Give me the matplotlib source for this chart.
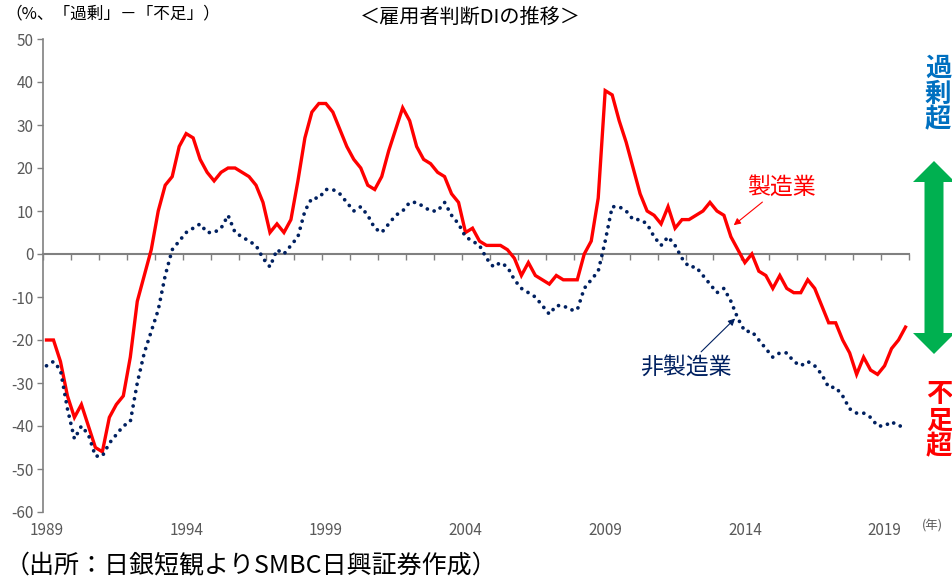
import matplotlib
matplotlib.use("Agg")
import matplotlib.pyplot as plt
from matplotlib.patches import Polygon
import numpy as np

plt.rcParams['font.family'] = ['Noto Sans CJK JP', 'DejaVu Sans']
plt.rcParams['axes.unicode_minus'] = False

# 四半期データ 1989Q1 - 2019Q4 (日銀短観 雇用人員判断DI)
manufacturing = [
    -20, -20, -25, -33,  -38, -35, -40, -45,  -46, -38, -35, -33,
    -24, -11, -5, 1,     10, 16, 18, 25,      28, 27, 22, 19,
    17, 19, 20, 20,      19, 18, 16, 12,      5, 7, 5, 8,
    17, 27, 33, 35,      35, 33, 29, 25,      22, 20, 16, 15,
    18, 24, 29, 34,      31, 25, 22, 21,      19, 18, 14, 12,
    5, 6, 3, 2,          2, 2, 1, -1,         -5, -2, -5, -6,
    -7, -5, -6, -6,      -6, 0, 3, 13,        38, 37, 31, 26,
    20, 14, 10, 9,       7, 11, 6, 8,         8, 9, 10, 12,
    10, 9, 4, 1,         -2, 0, -4, -5,       -8, -5, -8, -9,
    -9, -6, -8, -12,     -16, -16, -20, -23,  -28, -24, -27, -28,
    -26, -22, -20, -17,
]
non_manufacturing = [
    -26, -25, -27, -36,  -43, -40, -42, -47,  -47, -44, -42, -40,
    -39, -30, -23, -18,  -13, -5, 1, 3,       5, 6, 7, 5,
    5, 6, 9, 5,          4, 3, 2, -1,         -3, 1, 0, 2,
    4, 10, 13, 13,       15, 15, 14, 12,      10, 11, 9, 6,
    5, 7, 9, 10,         12, 12, 11, 10,      10, 12, 9, 7,
    4, 3, 2, -1,         -3, -2, -3, -6,      -8, -9, -10, -12,
    -14, -12, -12, -13,  -13, -8, -6, -4,     3, 11, 11, 10,
    8, 8, 7, 4,          2, 4, 2, -1,         -3, -3, -5, -7,
    -9, -8, -11, -15,    -18, -18, -20, -22,  -24, -23, -23, -25,
    -26, -25, -26, -28,  -31, -31, -33, -36,  -37, -37, -38, -40,
    -40, -39, -40, -40,
]
year_labels = ['1989', '1994', '1999', '2004', '2009', '2014', '2019']
y_ticks = list(range(-60, 51, 10))

red = '#FF0000'
navy = '#002060'
gray = '#595959'

W, H = 952, 583
fig = plt.figure(figsize=(W / 100, H / 100), dpi=100)
ax = fig.add_axes([43 / W, 1 - 512 / H, (909 - 43) / W, (512 - 39) / H])

q = np.arange(len(manufacturing))
ax.plot(q, manufacturing, color=red, lw=2.4, solid_joinstyle='miter', zorder=3)
ax.plot(q, non_manufacturing, color=navy, lw=2.7, dash_capstyle='round',
        linestyle=(0, (0.01, 1.95)), zorder=3)

ax.set_xlim(-0.5, len(q) - 0.5)
ax.set_ylim(-60, 50)

# 軸
for s in ['top', 'right']:
    ax.spines[s].set_visible(False)
ax.spines['left'].set_color('#808080')
ax.spines['left'].set_linewidth(1.2)
ax.spines['bottom'].set_position(('data', 0))
ax.spines['bottom'].set_color('#808080')
ax.spines['bottom'].set_linewidth(1.5)

ax.set_yticks(y_ticks)
ax.set_yticklabels([str(v) for v in y_ticks])
ax.tick_params(axis='y', direction='out', length=4, width=1, color='#808080',
               labelsize=11, labelcolor=gray, pad=3)
ax.set_xticks(np.arange(-0.5, len(q), 4))
ax.set_xticklabels([])
ax.tick_params(axis='x', direction='out', length=4, width=1, color='#808080')

sec = ax.secondary_xaxis(0.0)
sec.set_xticks(np.arange(0, len(q), 20))
sec.set_xticklabels(year_labels)
sec.tick_params(length=0, labelsize=11, labelcolor=gray, pad=7)
sec.spines['bottom'].set_visible(False)

fig.text(1 - 30 / W, 1 - 526 / H, '(年)', fontsize=9, color=gray,
         ha='left', va='center')

# 注記
ax.annotate('製造業', xy=(98.4, 6.7), xytext=(105.2, 15.6),
            fontsize=16.5, color=red, ha='center', va='center',
            arrowprops=dict(arrowstyle='-|>', color=red, lw=0.8,
                            mutation_scale=10, shrinkA=1, shrinkB=0))
ax.annotate('非製造業', xy=(98.6, -15.0), xytext=(91.5, -26.3),
            fontsize=16.5, color=navy, ha='center', va='center',
            arrowprops=dict(arrowstyle='-|>', color=navy, lw=0.8,
                            mutation_scale=10, shrinkA=1, shrinkB=0))

# タイトル・単位
fig.text(470 / W, 1 - 17 / H, '＜雇用者判断DIの推移＞', fontsize=14.5,
         ha='center', va='center')
fig.text(5 / W, 1 - 14 / H, '（%、「過剰」－「不足」）', fontsize=12,
         ha='left', va='center')
fig.text(5 / W, 1 - 566 / H, '（出所：日銀短観よりSMBC日興証券作成）', fontsize=18,
         ha='left', va='center')

# 右側の矢印と文字
cx = 934
pts = [(cx, 161), (cx + 21, 182), (cx + 9.5, 182), (cx + 9.5, 333),
       (cx + 21, 333), (cx, 354), (cx - 21, 333), (cx - 9.5, 333),
       (cx - 9.5, 182), (cx - 21, 182)]
arrow = Polygon([(x / W, 1 - y / H) for x, y in pts], closed=True,
                transform=fig.transFigure, facecolor='#00B050', edgecolor='none')
fig.patches.append(arrow)

for ch, y in zip('過剰超', [68, 94, 120]):
    fig.text(938 / W, 1 - y / H, ch, fontsize=19, fontweight='bold',
             color='#0070C0', ha='center', va='center')
for ch, y in zip('不足超', [395, 421, 447]):
    fig.text(939 / W, 1 - y / H, ch, fontsize=19, fontweight='bold',
             color=red, ha='center', va='center')

fig.savefig('out.png', dpi=100)
